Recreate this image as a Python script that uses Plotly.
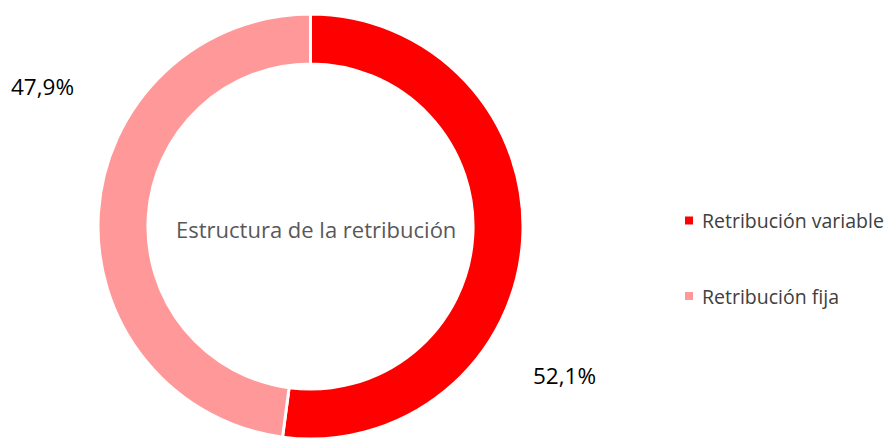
import plotly.graph_objects as go

labels = ["Retribución variable", "Retribución fija"]
values = [52.1, 47.9]
colors = ["#FF0000", "#FF9999"]
center_title = "Estructura de la retribución"

W, H = 886, 439
FONT = "Open Sans"

fig = go.Figure()
fig.add_trace(go.Pie(
    labels=labels, values=values, hole=0.765, sort=False,
    direction="clockwise", rotation=0,
    marker=dict(colors=colors, line=dict(color="white", width=3)),
    textinfo="none", showlegend=False,
    domain=dict(x=[98/W, 523/W], y=[0, 425/H]),
))

def fmt(v):
    return f"{v:.1f}".replace(".", ",") + "%"

# outside percentage labels
label_pos = [(564, 375), (42, 86)]
for v, (px, py) in zip(values, label_pos):
    fig.add_annotation(x=px/W, y=1-py/H, xref="paper", yref="paper",
                       xanchor="center", yanchor="middle",
                       text=fmt(v), showarrow=False,
                       font=dict(family=FONT, size=22.5, color="#000000"))

# center title
fig.add_annotation(x=315.5/W, y=1-229/H, xref="paper", yref="paper",
                   xanchor="center", yanchor="middle",
                   text=center_title, showarrow=False,
                   font=dict(family=FONT, size=22, color="#595959"))

# manual legend
leg_y = [220.5, 296]
for lab, col, ly in zip(labels, colors, leg_y):
    fig.add_shape(type="rect", xref="paper", yref="paper",
                  x0=685/W, x1=693/W, y0=1-(ly-4)/H, y1=1-(ly+4)/H,
                  fillcolor=col, line=dict(width=0))
    fig.add_annotation(x=700/W, y=1-ly/H, xref="paper", yref="paper",
                       xanchor="left", yanchor="middle", text=lab, showarrow=False,
                       font=dict(family=FONT, size=19.5, color="#404040"))

fig.update_layout(width=W, height=H, margin=dict(l=0, r=0, t=0, b=0),
                  paper_bgcolor="white", plot_bgcolor="white")
fig.write_html("out.html", config={"displayModeBar": False},
               post_script="document.body.style.margin='0';document.body.style.overflow='hidden';")
